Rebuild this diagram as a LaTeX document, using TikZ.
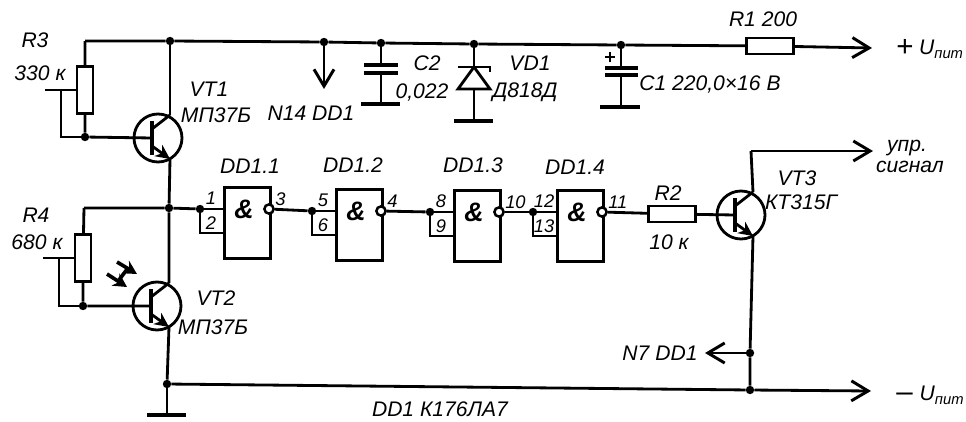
\documentclass[tikz,border=0pt]{standalone}
\usepackage{fontspec}
\setmainfont{Liberation Sans}
\usetikzlibrary{arrows.meta}
\tikzset{
	wire/.style={line width=2pt, line join=miter},
	barb/.style={-{Straight Barb[length=4.2mm,width=5mm,line width=2.1pt]}},
	dot/.style={circle, fill=black, inner sep=0pt, minimum size=2.1mm},
	resbox/.style={rectangle, draw, line width=2pt, fill=white, inner sep=0pt},
	gatebox/.style={rectangle, draw, line width=2pt, inner sep=0pt, anchor=north west, minimum width=11.5mm, minimum height=17.8mm},
	bubble/.style={circle, draw, line width=1.8pt, fill=white, inner sep=0pt, minimum size=2.3mm},
	lbl/.style={inner sep=0pt, font=\fontsize{15}{17}\selectfont\itshape},
	pinlbl/.style={inner sep=0pt, font=\fontsize{13}{15}\selectfont\itshape},
}
\newcommand{\upit}{U\raisebox{-3pt}{\fontsize{10.5}{12}\selectfont пит}}
\newcommand{\bigsign}[1]{\raisebox{-1pt}{\fontsize{21}{21}\selectfont\upshape #1}}
\begin{document}
\begin{tikzpicture}[x=0.025cm, y=-0.025cm]
	\useasboundingbox (0,0) rectangle (966,421);
	% junctions
	\node[dot] (j1) at (170,41) {};
	\node[dot] (j2) at (324,42) {};
	\node[dot] (j3) at (381,43) {};
	\node[dot] (j4) at (474,44) {};
	\node[dot] (j5) at (621,45) {};
	\node[dot] (j6) at (85,137) {};
	\node[dot] (j7) at (169,208) {};
	\node[dot] (j8) at (83,306) {};
	\node[dot] (j9) at (167,384) {};
	\node[dot] (j10) at (750,353) {};
	\node[dot] (j11) at (750,390) {};
	\coordinate (c1) at (85,41);
	\coordinate (c2) at (84,208);
	\coordinate (c3) at (61,137);
	\coordinate (c4) at (59,306);
	\coordinate (c5) at (751,151);
	\coordinate (w3) at (45,90);
	\coordinate (w4) at (43,258);
	\coordinate (w3m) at (61,90);
	\coordinate (w4m) at (59,258);
	\coordinate (plusend) at (872,48);
	\coordinate (minusend) at (871,391);
	\coordinate (sigend) at (873,151);
	\coordinate (n14end) at (324,89);
	\coordinate (n7end) at (705,353);
	% resistors
	\node[resbox, minimum width=4mm, minimum height=11.8mm] (r3) at (85,90) {};
	\node[resbox, minimum width=4mm, minimum height=11.8mm] (r4) at (83,258) {};
	\node[resbox, minimum width=11.8mm, minimum height=4mm] (r1) at (770,46) {};
	\node[resbox, minimum width=11.8mm, minimum height=4mm] (r2) at (672,214) {};
	% transistors
	\foreach \name/\cx/\cy in {vt1/158/138, vt2/157/306, vt3/741/215} {
		\begin{scope}[shift={(\cx,\cy)}]
			\node[circle, draw, line width=2pt, inner sep=0pt, minimum size=12mm] (\name) at (0,0) {};
			\coordinate (\name b) at (-6,0);
			\coordinate (\name t) at (-6,-17);
			\coordinate (\name m) at (-6,17);
			\coordinate (\name k) at (-6,-9);
			\coordinate (\name p) at (-6,8);
			\coordinate (\name c) at (12,-23);
			\coordinate (\name e) at (12,21);
			\draw[line width=2.2pt] (\name t) -- (\name m);
			\draw[wire] (\name k) -- (\name c);
			\draw[wire, -{Stealth[length=3.6mm,width=3.4mm]}] (\name p) -- (\name e);
		\end{scope}
	}
	% gates
	\foreach \n/\gx/\gy/\pa/\pb/\pc in {1/223/186/1/2/3, 2/335/188/5/6/4, 3/453/189/8/9/10, 4/556/189/12/13/11} {
		\node[gatebox] (gate\n) at (\gx,\gy) {};
		\node[inner sep=0pt, font=\fontsize{19}{19}\selectfont\bfseries\itshape] (amp\n) at (\gx+21,\gy+23) {\&};
		\node[bubble] (out\n) at (\gx+46,\gy+23) {};
		\node[dot] (in\n) at (\gx-23,\gy+23) {};
		\coordinate (inb\n) at (\gx-23,\gy+47);
		\draw[wire] (in\n) -- (in\n -| gate\n.west);
		\draw[wire] (in\n) -- (inb\n) -- (inb\n -| gate\n.west);
		\node[pinlbl] (pa\n) at (\gx-12,\gy+12) {\pa};
		\node[pinlbl] (pb\n) at (\gx-12,\gy+37) {\pb};
		\node[pinlbl, anchor=west] (pc\n) at (\gx+52,\gy+13) {\pc};
	}
	\foreach \a/\b in {out1/in2, out2/in3, out3/in4, out4/r2, r2/vt3b} \draw[wire] (\a) -- (\b);
	\draw[wire] (c2) -- (j7) -- (in1);
	% supply rails
	\draw[wire] (c1) -- (j1) -- (j2) -- (j3) -- (j4) -- (j5) -- (r1);
	\draw[wire, barb] (r1) -- (plusend);
	\draw[wire] (j9) -- (j11);
	\draw[wire, barb] (j11) -- (minusend);
	% upper and lower bias
	\draw[wire] (c1) -- (r3) -- (j6) -- (vt1b);
	\draw[wire] (w3) -- (r3);
	\draw[wire] (w3m) -- (c3) -- (j6);
	\draw[wire] (c2) -- (r4) -- (j8) -- (vt2b);
	\draw[wire] (w4) -- (r4);
	\draw[wire] (w4m) -- (c4) -- (j8);
	\draw[wire] (j1) -- (vt1c);
	\draw[wire] (vt1e) -- (j7) -- (vt2c);
	\draw[wire] (vt2e) -- (j9);
	% output stage
	\draw[wire] (vt3c) -- (c5);
	\draw[wire, barb] (c5) -- (sigend);
	\draw[wire] (vt3e) -- (j10) -- (j11);
	\draw[wire, barb] (j10) -- (n7end);
	\draw[wire, barb] (j2) -- (n14end);
	% C2, VD1, C1, ground
	\coordinate (c2a) at (381,65);
	\coordinate (c2b) at (381,73);
	\coordinate (c2g) at (381,104);
	\draw[wire] (j3) -- (c2a) (c2b) -- (c2g);
	\draw[line width=2.2pt] (364,65) -- (398,65) (364,73) -- (398,73);
	\draw[line width=2.6pt] (361,104) -- (400,104);
	\coordinate (vda) at (474,67);
	\coordinate (vdb) at (474,89);
	\coordinate (vdg) at (474,121);
	\draw[wire] (j4) -- (vda) (vdb) -- (vdg);
	\draw[wire] (458,89) -- (490,89) -- (vda) -- cycle;
	\draw[wire] (458,67) -- (490,67) -- (490,72);
	\draw[line width=2.6pt] (454,121) -- (493,121);
	\coordinate (c1a) at (621,68);
	\coordinate (c1b) at (621,75);
	\coordinate (c1g) at (621,107);
	\draw[wire] (j5) -- (c1a) (c1b) -- (c1g);
	\draw[line width=2.2pt] (605,68) -- (638,68) (605,75) -- (638,75);
	\draw[line width=2.6pt] (600,107) -- (640,107);
	\draw[line width=2pt] (605,57) -- (615,57) (610,52) -- (610,62);
	\coordinate (gnd) at (167,415);
	\draw[wire] (j9) -- (gnd);
	\draw[line width=2.6pt] (147,415) -- (186,415);
	% light on VT2
	\coordinate (pha) at (117,262);
	\coordinate (phb) at (137,274);
	\coordinate (phc) at (107,274);
	\coordinate (phd) at (127,287);
	\coordinate (phe) at (128,268);
	\coordinate (phf) at (119,280);
	\draw[line width=2.6pt, -{Stealth[length=3.4mm,width=3.6mm]}] (pha) -- (phb);
	\draw[line width=2.6pt, -{Stealth[length=3.4mm,width=3.6mm]}] (phc) -- (phd);
	\draw[line width=2.6pt] (phe) -- (phf);
	% labels
	\node[lbl] (lr3) at (35,40) {R3};
	\node[lbl] (lr3v) at (40,73) {330 к};
	\node[lbl] (lr4) at (36,215) {R4};
	\node[lbl] (lr4v) at (37,242) {680 к};
	\node[lbl] (lvt1) at (209,89) {VT1};
	\node[lbl] (lvt1t) at (216,115) {МП37Б};
	\node[lbl] (lvt2) at (216,298) {VT2};
	\node[lbl] (lvt2t) at (213,327) {МП37Б};
	\node[lbl] (lvt3) at (797,178) {VT3};
	\node[lbl] (lvt3t) at (801,202) {КТ315Г};
	\node[lbl] (ln14) at (311,113) {N14 DD1};
	\node[lbl] (lc2) at (427,63) {C2};
	\node[lbl] (lc2v) at (422,92) {0,022};
	\node[lbl] (lvd) at (530,63) {VD1};
	\node[lbl] (lvdt) at (525,92) {Д818Д};
	\node[lbl] (lc1) at (710,84) {C1 220,0×16 В};
	\node[lbl] (lr1) at (763,19) {R1 200};
	\node[lbl] (lr2) at (668,193) {R2};
	\node[lbl] (lr2v) at (669,242) {10 к};
	\node[lbl] (ld1) at (250,166) {DD1.1};
	\node[lbl] (ld2) at (353,165) {DD1.2};
	\node[lbl] (ld3) at (473,165) {DD1.3};
	\node[lbl] (ld4) at (575,167) {DD1.4};
	\node[lbl, anchor=west] (lplus) at (896,49) {\bigsign{+}\hspace{4pt}\upit};
	\node[lbl, anchor=west] (lminus) at (896,395) {\bigsign{–}\hspace{5pt}\upit};
	\node[lbl] (lsa) at (907,148) {упр.};
	\node[lbl] (lsb) at (910,167) {сигнал};
	\node[lbl] (ln7) at (660,353) {N7 DD1};
	\node[lbl] (ldd) at (440,409) {DD1 К176ЛА7};
\end{tikzpicture}
\end{document}
